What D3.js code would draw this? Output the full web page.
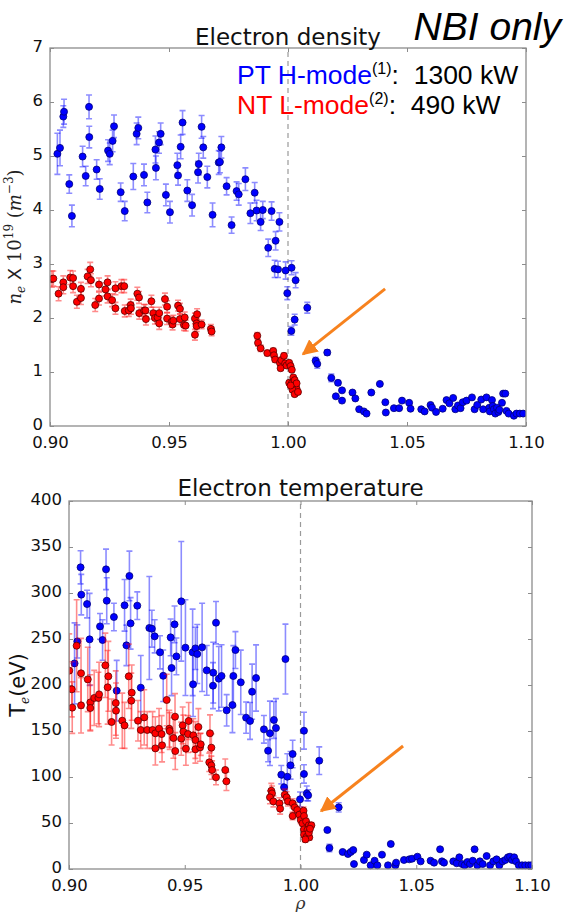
<!DOCTYPE html>
<html>
<head>
<meta charset="utf-8">
<script src="https://cdn.jsdelivr.net/npm/d3@7"></script>
<style>
  body { margin: 0; background: #fff; }
  svg { display: block; }
</style>
</head>
<body>
<div id="chart"></div>
<script>
// Electron density, PT H-mode (blue): [rho, ne, err]
const neH = [
  [0.9031, 5.04, 0.38], [0.9042, 5.15, 0.33], [0.9056, 5.73, 0.2], [0.9059, 5.82, 0.23],
  [0.9081, 4.48, 0.17], [0.9092, 3.89, 0.2], [0.9137, 4.99, 0.19], [0.9150, 4.63, 0.18],
  [0.9164, 5.91, 0.22], [0.9165, 5.35, 0.2], [0.9196, 4.75, 0.18], [0.9209, 4.39, 0.19],
  [0.9244, 5.1, 0.2], [0.9251, 5.04, 0.2], [0.9263, 5.28, 0.2], [0.9269, 5.55, 0.21],
  [0.9297, 4.33, 0.17], [0.9314, 3.98, 0.18], [0.9350, 4.62, 0.24], [0.9364, 5.41, 0.2],
  [0.9371, 5.52, 0.2], [0.9395, 4.65, 0.2], [0.9409, 4.14, 0.19], [0.9443, 5.12, 0.25],
  [0.9445, 4.78, 0.22], [0.9458, 5.25, 0.2], [0.9465, 5.41, 0.2], [0.9487, 4.28, 0.2],
  [0.9504, 3.96, 0.2], [0.9535, 4.83, 0.22], [0.9538, 4.64, 0.18], [0.9549, 5.17, 0.22],
  [0.9557, 5.62, 0.22], [0.9577, 4.36, 0.2], [0.9597, 4.09, 0.2], [0.9622, 4.70, 0.2],
  [0.9625, 4.85, 0.2], [0.9637, 5.54, 0.21], [0.9644, 5.16, 0.2], [0.9661, 4.61, 0.2],
  [0.9683, 3.91, 0.22], [0.9709, 4.88, 0.22], [0.9714, 4.89, 0.2], [0.9720, 5.16, 0.2],
  [0.9742, 4.44, 0.16], [0.9763, 3.72, 0.15], [0.9784, 4.35, 0.17], [0.9793, 4.29, 0.2],
  [0.9821, 4.57, 0.21], [0.9842, 3.94, 0.19], [0.9860, 4.32, 0.19], [0.9868, 3.99, 0.19],
  [0.9885, 3.78, 0.16], [0.9894, 4.0, 0.16], [0.9931, 3.98, 0.17], [0.9964, 3.78, 0.17],
  [0.9917, 3.30, 0.16], [0.9948, 3.43, 0.17], [0.9944, 2.91, 0.16], [0.9958, 2.90, 0.15],
  [0.9990, 2.88, 0.16], [0.9997, 2.46, 0.12], [1.0015, 2.93, 0.13], [1.0032, 2.70, 0.14],
  [1.0014, 1.76, 0.08], [1.0028, 1.97, 0.1], [1.0081, 2.19, 0.1], [1.0116, 1.21, 0.06],
  [1.0123, 1.15, 0.08], [1.0165, 1.36, 0.05], [1.0182, 0.89, 0.07], [1.0210, 0.80, 0.04],
  [1.0227, 0.66, 0], [1.0201, 0.55, 0], [1.0227, 0.47, 0], [1.0271, 0.62, 0],
  [1.0283, 0.51, 0], [1.0299, 0.31, 0], [1.0319, 0.27, 0], [1.0330, 0.23, 0],
  [1.0350, 0.62, 0], [1.0386, 0.78, 0], [1.0409, 0.44, 0], [1.0411, 0.25, 0],
  [1.0445, 0.33, 0], [1.0467, 0.33, 0], [1.0479, 0.47, 0], [1.0509, 0.43, 0],
  [1.0515, 0.32, 0], [1.0560, 0.31, 0], [1.0574, 0.27, 0], [1.0599, 0.39, 0],
  [1.0605, 0.34, 0], [1.0622, 0.26, 0], [1.0650, 0.32, 0], [1.0666, 0.48, 0],
  [1.0678, 0.42, 0], [1.0694, 0.52, 0], [1.0703, 0.31, 0], [1.0714, 0.38, 0],
  [1.0725, 0.33, 0], [1.0734, 0.44, 0], [1.0750, 0.47, 0], [1.0773, 0.53, 0],
  [1.0784, 0.31, 0], [1.0795, 0.39, 0], [1.0812, 0.49, 0], [1.0820, 0.31, 0],
  [1.0834, 0.53, 0], [1.0846, 0.34, 0], [1.0848, 0.27, 0], [1.0857, 0.48, 0],
  [1.0860, 0.37, 0], [1.0865, 0.31, 0], [1.0871, 0.23, 0], [1.0878, 0.34, 0],
  [1.0884, 0.26, 0], [1.0888, 0.30, 0], [1.0899, 0.43, 0], [1.0904, 0.60, 0],
  [1.0913, 0.60, 0], [1.0918, 0.28, 0], [1.0927, 0.23, 0], [1.0949, 0.19, 0],
  [1.0960, 0.23, 0], [1.0974, 0.23, 0], [1.0988, 0.23, 0]
];

// Electron density, NT L-mode (red): [rho, ne, err]
const neL = [
  [0.9008, 2.72, 0.15], [0.9014, 2.73, 0.14], [0.9036, 2.45, 0.13], [0.9056, 2.66, 0.12],
  [0.9056, 2.57, 0.12], [0.9085, 2.75, 0.13], [0.9097, 2.74, 0.13], [0.9097, 2.59, 0.12],
  [0.9113, 2.30, 0.12], [0.9130, 2.54, 0.12], [0.9130, 2.37, 0.12], [0.9158, 2.77, 0.13],
  [0.9169, 2.90, 0.13], [0.9172, 2.70, 0.12], [0.9190, 2.24, 0.12], [0.9206, 2.62, 0.12],
  [0.9206, 2.36, 0.12], [0.9233, 2.53, 0.12], [0.9242, 2.66, 0.12], [0.9242, 2.40, 0.12],
  [0.9261, 2.33, 0.12], [0.9275, 2.55, 0.12], [0.9275, 2.18, 0.11], [0.9300, 2.59, 0.12],
  [0.9312, 2.59, 0.12], [0.9314, 2.13, 0.11], [0.9331, 2.14, 0.11], [0.9339, 2.24, 0.11],
  [0.9340, 2.18, 0.11], [0.9367, 2.45, 0.12], [0.9374, 2.38, 0.11], [0.9375, 2.09, 0.11],
  [0.9395, 2.14, 0.11], [0.9401, 2.14, 0.11], [0.9403, 1.98, 0.11], [0.9426, 2.31, 0.11],
  [0.9434, 2.09, 0.11], [0.9441, 2.00, 0.11], [0.9452, 2.01, 0.11], [0.9459, 2.09, 0.11],
  [0.9459, 1.90, 0.11], [0.9483, 2.35, 0.11], [0.9492, 2.21, 0.11], [0.9492, 1.99, 0.11],
  [0.9511, 1.93, 0.1], [0.9515, 1.88, 0.1], [0.9518, 1.95, 0.1], [0.9538, 2.23, 0.1],
  [0.9546, 2.17, 0.1], [0.9546, 1.98, 0.1], [0.9563, 1.87, 0.1], [0.9566, 2.01, 0.1],
  [0.9570, 1.86, 0.1], [0.9609, 1.99, 0.1], [0.9609, 1.69, 0.1], [0.9618, 2.07, 0.1],
  [0.9616, 1.90, 0.1], [0.9616, 1.85, 0.1], [0.9637, 1.88, 0.08], [0.9676, 1.80, 0.08],
  [0.9679, 1.75, 0.08],
  [0.9871, 1.67, 0.06], [0.9874, 1.54, 0.06], [0.9885, 1.44, 0.06], [0.9913, 1.35, 0.05],
  [0.9938, 1.39, 0.05], [0.9941, 1.31, 0.05], [0.9946, 1.23, 0.05], [0.9966, 1.17, 0.05],
  [0.9972, 1.22, 0.05], [0.9983, 1.30, 0.05], [0.9988, 1.16, 0.04], [0.9969, 1.07, 0.04],
  [0.9994, 1.12, 0.04], [1.0005, 1.17, 0.04], [1.0011, 1.11, 0.04], [1.0016, 1.04, 0.04],
  [1.0022, 0.90, 0.04], [1.0005, 0.80, 0.04], [1.0016, 0.79, 0.04], [1.0028, 0.85, 0.04],
  [1.0030, 0.73, 0.04], [1.0036, 0.69, 0.04], [1.0019, 0.67, 0.04], [1.0028, 0.59, 0.04],
  [1.0042, 0.63, 0.04], [1.0036, 0.79, 0.04], [1.0011, 0.75, 0.04]
];

// Electron temperature, PT H-mode (blue): [rho, Te, err]
const teH = [
  [0.9024, 223.5, 44], [0.9036, 247.4, 18], [0.9050, 327.9, 18], [0.9053, 298.2, 22],
  [0.9078, 288, 15], [0.9089, 249.6, 50], [0.9134, 263.7, 14], [0.9145, 248.9, 22],
  [0.9160, 325.7, 22], [0.9163, 291.6, 25], [0.9194, 273.9, 15], [0.9206, 193.8, 33],
  [0.9240, 286.6, 28], [0.9248, 243.1, 22], [0.9261, 318.5, 27], [0.9266, 267, 28],
  [0.9295, 286.2, 15], [0.9310, 197.1, 35], [0.9347, 262, 56], [0.9358, 261.2, 20],
  [0.9370, 252.9, 18], [0.9393, 235.5, 18], [0.9407, 210, 28], [0.9439, 251.8, 20],
  [0.9443, 218.5, 30], [0.9456, 265.9, 20], [0.9464, 231.1, 20], [0.9485, 290.9, 65],
  [0.9503, 240.6, 52], [0.9534, 235.5, 47], [0.9536, 200.7, 35], [0.9546, 239.8, 23],
  [0.9554, 233.7, 32], [0.9575, 240.9, 48], [0.9595, 215.9, 27], [0.9622, 199.3, 25],
  [0.9623, 213.4, 33], [0.9635, 267.7, 23], [0.9647, 206.9, 35], [0.9659, 209.8, 34],
  [0.9681, 172.5, 17], [0.9706, 178.2, 30], [0.9710, 209.8, 33], [0.9719, 238, 20],
  [0.9742, 202.9, 35], [0.9765, 164.5, 17], [0.9782, 160.9, 20], [0.9791, 192.7, 30],
  [0.9808, 207.6, 36], [0.9842, 151.8, 15], [0.9860, 128.6, 12], [0.9868, 147.5, 35],
  [0.9885, 162, 20], [0.9894, 153.2, 32], [0.9917, 102.5, 10], [0.9929, 88.8, 10],
  [0.9935, 228.2, 38], [0.9943, 100.3, 25], [0.9957, 112.7, 15], [0.9966, 125, 15],
  [0.9998, 75.7, 8], [1.0015, 150.3, 20], [1.0015, 103.3, 10], [1.0027, 82.2, 8],
  [1.0033, 80.1, 6], [1.0081, 117.7, 15], [1.0165, 67, 5], [1.0116, 42.4, 0],
  [1.0125, 22.8, 4], [1.0182, 18.5, 0], [1.0205, 16.3, 0], [1.0217, 18.5, 0],
  [1.0228, 20.6, 0], [1.0231, 5.4, 0], [1.0274, 9.8, 0], [1.0286, 15.6, 0],
  [1.0303, 4, 0], [1.0320, 9, 0], [1.0332, 4, 0], [1.0352, 15.6, 0],
  [1.0378, 4, 0], [1.0390, 27.2, 0], [1.0410, 4, 0], [1.0413, 6.9, 0],
  [1.0447, 9.8, 0], [1.0470, 10.5, 0], [1.0482, 11.2, 0], [1.0505, 13.4, 0],
  [1.0519, 8.3, 0], [1.0562, 9, 0], [1.0577, 6.9, 0], [1.0603, 21.4, 0],
  [1.0611, 8.3, 0], [1.0620, 6.9, 0], [1.0660, 8.3, 0], [1.0675, 6.2, 0],
  [1.0686, 12.7, 0], [1.0698, 5.4, 0], [1.0709, 4, 0], [1.0721, 7.6, 0],
  [1.0732, 5.4, 0], [1.0744, 9, 0], [1.0752, 21.4, 0], [1.0764, 4, 0],
  [1.0775, 8.3, 0], [1.0787, 5.4, 0], [1.0804, 14.1, 0], [1.0819, 4, 0],
  [1.0833, 8.3, 0], [1.0847, 10.5, 0], [1.0859, 4, 0], [1.0873, 8.3, 0],
  [1.0885, 9.8, 0], [1.0896, 12.7, 0], [1.0905, 13.4, 0], [1.0914, 9.8, 0],
  [1.0923, 12.7, 0], [1.0931, 8.3, 0], [1.0943, 4, 0], [1.0957, 4, 0],
  [1.0971, 4, 0], [1.0986, 4, 0], [1.0997, 4, 0]
];

// Electron temperature, NT L-mode (red): [rho, Te, err]
const teL = [
  [0.9001, 215.6, 40], [0.9012, 195.3, 30], [0.9014, 175.4, 28], [0.9033, 242.7, 50],
  [0.9052, 212.7, 38], [0.9052, 177.9, 30], [0.9081, 206.1, 35], [0.9092, 181.1, 30],
  [0.9092, 175, 25], [0.9109, 185.9, 30], [0.9127, 185.9, 28], [0.9130, 189.8, 35],
  [0.9157, 221.4, 35], [0.9167, 197.5, 40], [0.9170, 209.4, 38], [0.9184, 159.8, 25],
  [0.9202, 180.4, 35], [0.9203, 172.1, 30], [0.9230, 161.2, 30], [0.9240, 156.1, 25],
  [0.9258, 209.4, 35], [0.9269, 182.9, 30], [0.9271, 191.7, 30], [0.9298, 161.2, 22],
  [0.9310, 151.1, 20], [0.9325, 164.8, 30], [0.9338, 151.1, 20], [0.9361, 151.1, 20],
  [0.9373, 147.5, 18], [0.9373, 131.1, 18], [0.9389, 152.5, 22], [0.9400, 146.7, 20],
  [0.9402, 134.4, 18], [0.9422, 183.7, 28], [0.9433, 152.5, 20], [0.9435, 150, 20],
  [0.9451, 142.4, 22], [0.9458, 165.6, 25], [0.9459, 128.2, 20], [0.9485, 141.7, 18],
  [0.9491, 156.1, 20], [0.9494, 149.3, 18], [0.9505, 130.8, 18], [0.9514, 146.7, 20],
  [0.9517, 160.9, 20], [0.9537, 145.3, 18], [0.9546, 140.2, 20], [0.9546, 130.1, 15],
  [0.9559, 154.3, 20], [0.9566, 132.2, 15], [0.9569, 135.5, 12], [0.9609, 147.5, 20],
  [0.9606, 115.9, 10], [0.9615, 131.9, 15], [0.9615, 112.7, 10], [0.9618, 107.6, 10],
  [0.9635, 99.6, 8], [0.9675, 107.6, 12], [0.9680, 95.3, 10],
  [0.9874, 85.1, 8], [0.9877, 82.2, 8], [0.9868, 77.9, 7], [0.9883, 73.5, 6],
  [0.9909, 71.4, 6], [0.9912, 65.6, 6], [0.9932, 80.8, 6], [0.9940, 77.9, 6],
  [0.9946, 73.5, 5], [0.9966, 71.4, 5], [0.9975, 67, 5], [0.9966, 57.6, 4],
  [0.9986, 64.1, 4], [0.9995, 59.1, 4], [1.0001, 53.3, 4], [1.0013, 63.4, 4],
  [1.0015, 57.6, 4], [1.0009, 49.6, 3], [1.0024, 51.8, 3], [1.0036, 47.5, 3],
  [1.0047, 47.5, 3], [1.0015, 43.1, 3], [1.0030, 42.4, 3], [1.0015, 37.3, 3],
  [1.0027, 35.1, 3], [1.0038, 34.4, 3], [1.0021, 32.2, 3], [1.0036, 39.5, 3],
  [1.0041, 43.8, 3]
];

// Tick values
const rhoTicks = [0.90, 0.95, 1.00, 1.05, 1.10];
const neTicks = [0, 1, 2, 3, 4, 5, 6, 7];
const teTicks = [0, 50, 100, 150, 200, 250, 300, 350, 400];

// Arrow annotations in data units: [rho start, y start, rho tip, y tip]
const neArrow = [1.0408, 2.54, 1.0063, 1.33];
const teArrow = [1.0443, 133.7, 1.0089, 63];

const width = 568;
const height = 912;
const blue = "#0000ff";
const red = "#ff0000";
const orange = "#f7821e";
const frameColor = "#8c8c8c";
const tickFont = "'DejaVu Sans', sans-serif";

const svg = d3.select("#chart")
  .append("svg")
  .attr("width", width)
  .attr("height", height)
  .style("background", "#fff");

// defs: arrow head
svg.append("defs")
  .append("marker")
  .attr("id", "arrowhead")
  .attr("viewBox", "0 0 10 10")
  .attr("refX", 9)
  .attr("refY", 5)
  .attr("markerWidth", 5.2)
  .attr("markerHeight", 5.2)
  .attr("markerUnits", "strokeWidth")
  .attr("orient", "auto")
  .append("path")
  .attr("d", "M0,0 L10,5 L0,10 z")
  .attr("fill", orange);

function drawPanel(opts) {
  const { x, y, yTicks, title, titleY, series, arrow } = opts;
  const [x0, x1] = x.range();
  const [y0, y1] = y.range(); // y0 bottom, y1 top
  const g = svg.append("g");

  // Dashed separatrix
  g.append("line")
    .attr("x1", x(1.0)).attr("x2", x(1.0))
    .attr("y1", y0).attr("y2", y1)
    .attr("stroke", "#9a9a9a")
    .attr("stroke-width", 1.2)
    .attr("stroke-dasharray", "5,4");

  // Ticks inside on all four sides
  const tl = 4;
  g.append("g")
    .attr("transform", `translate(0,${y0})`)
    .call(d3.axisBottom(x).tickValues(rhoTicks).tickSize(-tl).tickPadding(10).tickFormat(d3.format(".2f")))
    .call((a) => a.select(".domain").remove());
  g.append("g")
    .attr("transform", `translate(0,${y1})`)
    .call(d3.axisTop(x).tickValues(rhoTicks).tickSize(-tl).tickFormat(""))
    .call((a) => a.select(".domain").remove());
  g.append("g")
    .attr("transform", `translate(${x0},0)`)
    .call(d3.axisLeft(y).tickValues(yTicks).tickSize(-tl).tickPadding(7).tickFormat(d3.format("d")))
    .call((a) => a.select(".domain").remove())
    .call((a) => a.selectAll(".tick text").attr("dy", "0.22em"));
  g.append("g")
    .attr("transform", `translate(${x1},0)`)
    .call(d3.axisRight(y).tickValues(yTicks).tickSize(-tl).tickFormat(""))
    .call((a) => a.select(".domain").remove());

  g.selectAll(".tick line").attr("stroke", frameColor);
  g.selectAll(".tick text")
    .style("font-family", tickFont)
    .style("font-size", "16.5px")
    .attr("fill", "#111");

  // Series: error bars then markers
  const clipId = "clip" + Math.round(y1);
  svg.append("clipPath").attr("id", clipId)
    .append("rect")
    .attr("x", x0).attr("y", y1 - 1)
    .attr("width", x1 - x0).attr("height", y0 - y1 + 2);

  const plot = g.append("g").attr("clip-path", `url(#${clipId})`);
  for (const s of series) {
    const withErr = s.data.filter((d) => d[2] > 0);
    const bars = plot.append("g")
      .attr("stroke", s.color)
      .attr("stroke-opacity", 0.45)
      .attr("stroke-width", 1.6)
      .attr("fill", "none");
    bars.selectAll("path")
      .data(withErr)
      .join("path")
      .attr("d", (d) => {
        const cx = x(d[0]);
        const ya = y(d[1] + d[2]);
        const yb = y(d[1] - d[2]);
        return `M${cx},${ya}V${yb}M${cx - 3},${ya}H${cx + 3}M${cx - 3},${yb}H${cx + 3}`;
      });
    plot.append("g")
      .selectAll("circle")
      .data(s.data)
      .join("circle")
      .attr("cx", (d) => x(d[0]))
      .attr("cy", (d) => y(d[1]))
      .attr("r", 3.5)
      .attr("fill", s.color)
      .attr("stroke", s.edge)
      .attr("stroke-width", 0.8);
  }

  // Frame
  g.append("rect")
    .attr("x", x0).attr("y", y1)
    .attr("width", x1 - x0).attr("height", y0 - y1)
    .attr("fill", "none")
    .attr("stroke", frameColor)
    .attr("stroke-width", 1.3);

  // Title
  g.append("text")
    .attr("x", (x0 + x1) / 2)
    .attr("y", titleY)
    .attr("text-anchor", "middle")
    .style("font-family", tickFont)
    .style("font-size", "23px")
    .attr("fill", "#111")
    .text(title);

  // Orange arrow
  g.append("line")
    .attr("x1", x(arrow[0])).attr("y1", y(arrow[1]))
    .attr("x2", x(arrow[2])).attr("y2", y(arrow[3]))
    .attr("stroke", orange)
    .attr("stroke-width", 3)
    .attr("marker-end", "url(#arrowhead)");

  return g;
}

// Top panel: electron density
const xTop = d3.scaleLinear().domain([0.9, 1.1]).range([50, 526]);
const yTop = d3.scaleLinear().domain([0, 7]).range([426, 48]);
drawPanel({
  x: xTop, y: yTop, yTicks: neTicks,
  title: "Electron density", titleY: 45,
  series: [
    { data: neH, color: blue, edge: "#00007a" },
    { data: neL, color: red, edge: "#5a0000" },
  ],
  arrow: neArrow,
});

// Bottom panel: electron temperature
const xBot = d3.scaleLinear().domain([0.9, 1.1]).range([69, 532]);
const yBot = d3.scaleLinear().domain([0, 400]).range([869, 501]);
drawPanel({
  x: xBot, y: yBot, yTicks: teTicks,
  title: "Electron temperature", titleY: 496,
  series: [
    { data: teH, color: blue, edge: "#00007a" },
    { data: teL, color: red, edge: "#5a0000" },
  ],
  arrow: teArrow,
});

// "NBI only"
svg.append("text")
  .attr("x", 561)
  .attr("y", 40)
  .attr("text-anchor", "end")
  .style("font-family", "'Liberation Sans', Arial, sans-serif")
  .style("font-style", "italic")
  .style("font-size", "39px")
  .attr("fill", "#000")
  .text("NBI only");

// Legend lines
const legendFont = "'Liberation Sans', Arial, sans-serif";
const legendRows = [
  { label: "PT H-mode", sup: "(1)", rest: ":  1300 kW", color: blue, y: 84 },
  { label: "NT L-mode", sup: "(2)", rest: ":  490 kW", color: red, y: 114 },
];
for (const row of legendRows) {
  const t = svg.append("text")
    .attr("x", 237)
    .attr("y", row.y)
    .style("font-family", legendFont)
    .style("font-size", "26.5px")
    .style("white-space", "pre")
    .attr("xml:space", "preserve");
  t.append("tspan").attr("fill", row.color).text(row.label);
  t.append("tspan").attr("fill", "#000").attr("dy", -10).style("font-size", "16px").text(row.sup);
  t.append("tspan").attr("fill", "#000").attr("dy", 10).text(row.rest);
}

// Y label, top: n_e X 10^19 (m^-3)
const serif = "'DejaVu Serif', serif";
const neLabel = svg.append("text")
  .attr("transform", `translate(21,${(426 + 48) / 2}) rotate(-90)`)
  .attr("text-anchor", "middle")
  .style("font-family", serif)
  .style("font-size", "18px")
  .attr("fill", "#222");
neLabel.append("tspan").style("font-style", "italic").text("n");
neLabel.append("tspan").style("font-style", "italic").style("font-size", "12px").attr("dy", 4).text("e");
neLabel.append("tspan").attr("dy", -4).style("font-family", tickFont).text(" X ");
neLabel.append("tspan").text("10");
neLabel.append("tspan").style("font-size", "12px").attr("dy", -8).text("19");
neLabel.append("tspan").attr("dy", 8).text(" (");
neLabel.append("tspan").style("font-style", "italic").text("m");
neLabel.append("tspan").style("font-size", "12px").attr("dy", -8).text("−3");
neLabel.append("tspan").attr("dy", 8).text(")");

// Y label, bottom: T_e (eV)
const teLabel = svg.append("text")
  .attr("transform", `translate(25,${(869 + 501) / 2}) rotate(-90)`)
  .attr("text-anchor", "middle")
  .style("font-family", tickFont)
  .style("font-size", "21px")
  .attr("fill", "#111");
teLabel.append("tspan").text("T");
teLabel.append("tspan").style("font-family", serif).style("font-style", "italic").style("font-size", "12px").attr("dy", 4).text("e");
teLabel.append("tspan").attr("dy", -4).text("(eV)");

// X label, bottom
svg.append("text")
  .attr("x", xBot(1.0))
  .attr("y", 909)
  .attr("text-anchor", "middle")
  .style("font-family", serif)
  .style("font-style", "italic")
  .style("font-size", "17px")
  .attr("fill", "#333")
  .text("ρ");
</script>
</body>
</html>
